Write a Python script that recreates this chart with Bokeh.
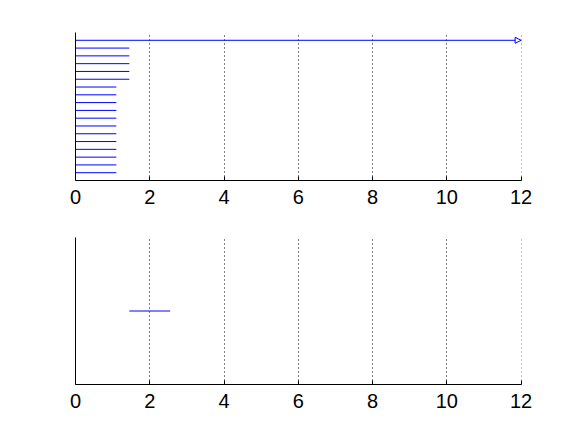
from bokeh.plotting import figure
from bokeh.models import Range1d, FixedTicker, ColumnDataSource, Arrow, NormalHead
from bokeh.layouts import column
from bokeh.embed import file_html
from bokeh.resources import INLINE

# ---- data ----
x_ticks = [0, 2, 4, 6, 8, 10, 12]
grid_ticks = [2, 4, 6, 8, 10, 12]
top_rows = [1, 2, 3, 4, 5, 6, 7, 8, 9, 10, 11, 12, 13, 14, 15, 16, 17]
top_starts = [0, 0, 0, 0, 0, 0, 0, 0, 0, 0, 0, 0, 0, 0, 0, 0, 0]
top_ends = [1.1, 1.1, 1.1, 1.1, 1.1, 1.1, 1.1, 1.1, 1.1, 1.1, 1.1, 1.1,
            1.45, 1.45, 1.45, 1.45, 1.45]
arrow_row = [18]
arrow_start = [0]
arrow_end = [12]
bottom_rows = [0.5]
bottom_starts = [1.45]
bottom_ends = [2.55]

BLUE = "#0000ff"
FONT = "Liberation Sans"


def make_fig(height, top, bottom, y_range):
    p = figure(width=576, height=height, output_backend="svg", toolbar_location=None,
               x_range=Range1d(0, 12.01), y_range=y_range,
               min_border_left=75, min_border_right=55,
               min_border_top=top, min_border_bottom=bottom)
    p.outline_line_color = None
    p.background_fill_color = "white"
    p.border_fill_color = "white"
    p.xaxis.ticker = FixedTicker(ticks=x_ticks)
    p.xaxis.major_label_text_font = FONT
    p.xaxis.major_label_text_font_size = "20px"
    p.xaxis.major_label_text_color = "black"
    p.xaxis.major_label_standoff = 9
    p.xaxis.major_tick_in = 4
    p.xaxis.major_tick_out = 0
    p.xaxis.minor_tick_line_color = None
    p.xaxis.axis_line_color = "black"
    p.yaxis.ticker = FixedTicker(ticks=[])
    p.yaxis.major_tick_line_color = None
    p.yaxis.minor_tick_line_color = None
    p.yaxis.axis_line_color = "black"
    p.xgrid.grid_line_color = "black"
    p.xgrid.grid_line_dash = "1 3"
    p.xgrid.grid_line_alpha = 1.0
    p.xgrid.ticker = FixedTicker(ticks=grid_ticks)
    p.ygrid.grid_line_color = None
    return p


p1 = make_fig(216, 32, 36, Range1d(0, 19))
src1 = ColumnDataSource(dict(x0=top_starts, x1=top_ends, y=top_rows))
p1.segment(x0="x0", y0="y", x1="x1", y1="y", source=src1, line_color=BLUE, line_width=1)
asrc = ColumnDataSource(dict(x0=arrow_start, x1=arrow_end, y=arrow_row))
p1.add_layout(Arrow(x_start="x0", y_start="y", x_end="x1", y_end="y", source=asrc,
                    line_color=BLUE, line_width=1,
                    end=NormalHead(size=6, fill_color=None, line_color=BLUE, line_width=1)))

p2 = make_fig(208, 21, 40, Range1d(0, 1))
src2 = ColumnDataSource(dict(x0=bottom_starts, x1=bottom_ends, y=bottom_rows))
p2.segment(x0="x0", y0="y", x1="x1", y1="y", source=src2, line_color=BLUE, line_width=1)

layout = column(p1, p2, spacing=0)
open("out.html", "w").write(file_html(layout, INLINE))
